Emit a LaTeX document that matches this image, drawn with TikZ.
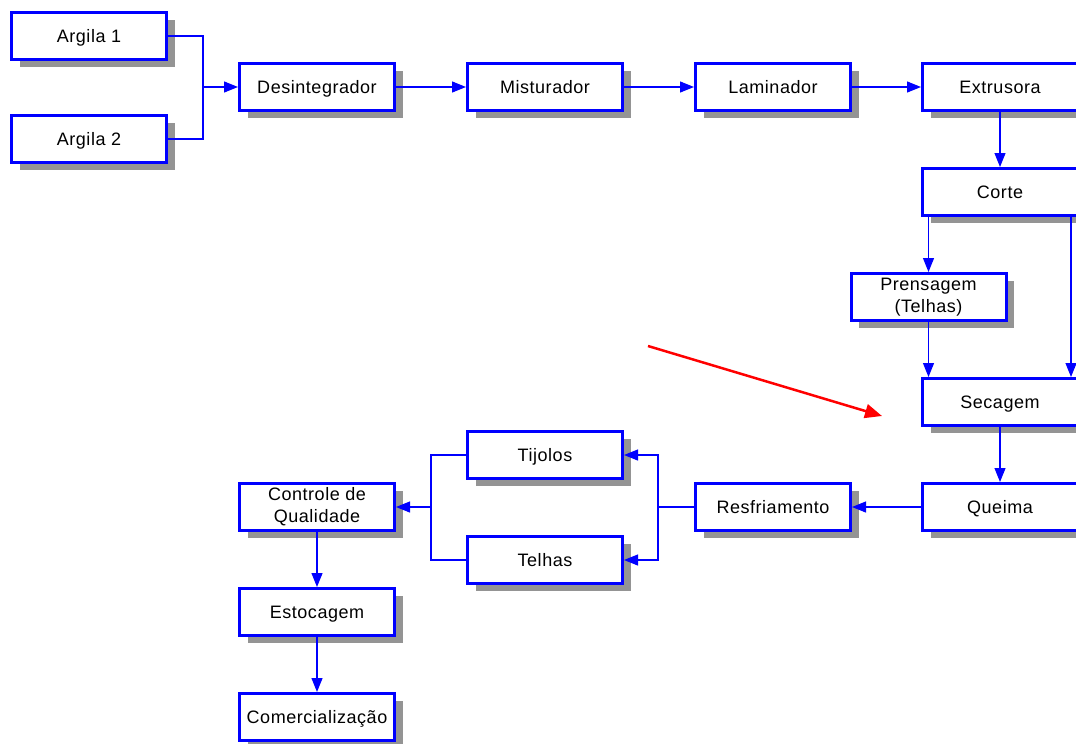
\documentclass[tikz,border=0pt]{standalone}
\usepackage{fontspec}
\setmainfont[LetterSpace=3]{Liberation Sans}
\usetikzlibrary{arrows.meta, positioning, calc, shadows}

\begin{document}
\begin{tikzpicture}[
    x=1pt, y=-1pt,
    every node/.style={font=\fontsize{18}{22}\selectfont},
    box/.style={draw=blue, line width=3pt, fill=white, minimum width=155pt,
        minimum height=47pt, inner sep=0pt, align=center,
        drop shadow={shadow xshift=8pt, shadow yshift=-7pt, fill=black!42, opacity=1}},
    stage/.style={box, text height=13pt, text depth=0pt},
    link/.style={draw=blue, line width=1.2pt},
    arrow/.style={link, -{Triangle[length=14pt, width=11pt]}},
    hint/.style={draw=red, line width=2.5pt, -{Triangle[length=17pt, width=14pt]}}
]
\useasboundingbox (0,0) rectangle (1076,744);

% === NODES ===

% Raw materials
\node[stage] (arg1) at (89,36) {Argila 1};
\node[stage] (arg2) at (89,139) {Argila 2};

% Top row
\node[stage] (desint) at (317,87) {Desintegrador};
\node[stage] (mist) at (545,87) {Misturador};
\node[stage] (lamin) at (773,87) {Laminador};
\node[stage] (extr) at (1000,87) {Extrusora};

% Right column
\node[stage] (corte) at (1000,192) {Corte};
\node[box] (prens) at (928.5,297) {Prensagem\\(Telhas)};
\node[stage] (secag) at (1000,402) {Secagem};
\node[stage] (queima) at (1000,507) {Queima};

% Bottom row
\node[stage] (resfr) at (773,507) {Resfriamento};
\node[stage] (tijolos) at (545,455) {Tijolos};
\node[stage] (telhas) at (545,560) {Telhas};
\node[box] (control) at (317,507) {Controle de\\Qualidade};
\node[stage] (estoc) at (317,612) {Estocagem};
\node[stage] (comerc) at (317,717) {Comercialização};

% Junctions
\coordinate (jin) at (203,87);
\coordinate (jsplit) at (658,507);
\coordinate (jjoin) at (431,507);

% === MIXING LINE ===

\draw[link] (arg1.east) -| (jin);
\draw[link] (arg2.east) -| (jin);
\draw[arrow] (jin) -- (desint.west);

\draw[arrow] (desint) -- (mist);
\draw[arrow] (mist) -- (lamin);
\draw[arrow] (lamin) -- (extr);

% === FORMING AND DRYING ===

\draw[arrow] (extr) -- (corte);
\draw[arrow] (corte.south -| prens) -- (prens.north);
\draw[arrow] ([xshift=71pt]corte.south) -- ([xshift=71pt]secag.north);
\draw[arrow] (prens.south) -- (secag.north -| prens);
\draw[arrow] (secag) -- (queima);

% === FIRING AND PRODUCTS ===

\draw[arrow] (queima) -- (resfr);
\draw[link] (resfr.west) -- (jsplit);
\draw[arrow] (jsplit) |- (tijolos.east);
\draw[arrow] (jsplit) |- (telhas.east);

\draw[link] (tijolos.west) -| (jjoin);
\draw[link] (telhas.west) -| (jjoin);
\draw[arrow] (jjoin) -- (control.east);

\draw[arrow] (control) -- (estoc);
\draw[arrow] (estoc) -- (comerc);

% === HIGHLIGHT ===

\coordinate (hstart) at (648,346);
\coordinate (hend) at (882,416);
\draw[hint] (hstart) -- (hend);

\end{tikzpicture}
\end{document}
